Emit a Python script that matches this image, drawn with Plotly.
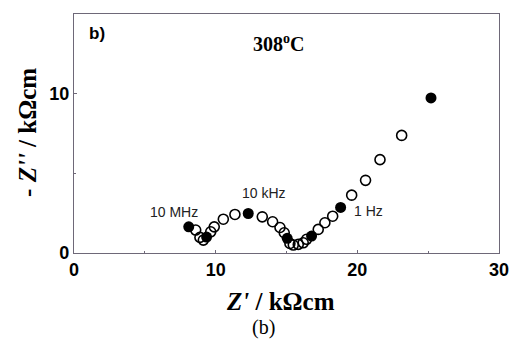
import plotly.graph_objects as go

# Open circles (Z', -Z'')
open_x = [8.59, 8.89, 9.13, 9.65, 9.9, 10.54, 11.36, 13.29, 14.02, 14.54, 14.84,
          15.24, 15.48, 15.83, 16.18, 16.42, 17.24, 17.71, 18.26, 19.6, 20.58, 21.6, 23.13]
open_y = [1.44, 0.98, 0.81, 1.33, 1.64, 2.12, 2.42, 2.27, 1.96, 1.6, 1.27,
          0.6, 0.5, 0.54, 0.64, 0.86, 1.48, 1.9, 2.31, 3.63, 4.56, 5.86, 7.38]
# Filled circles (decade frequencies)
filled_x = [8.1, 9.36, 12.3, 15.05, 16.77, 18.82, 25.2]
filled_y = [1.64, 1.0, 2.48, 0.92, 1.06, 2.86, 9.73]

freq_labels = ["10 MHz", "10 kHz", "1 Hz"]
freq_x = [7.06, 13.44, 20.78]
freq_y = [2.56, 3.75, 2.63]

x_ticks = [0, 10, 20, 30]
y_ticks = [0, 10]

fig = go.Figure()
fig.add_trace(go.Scatter(x=open_x, y=open_y, mode="markers",
                         marker=dict(symbol="circle-open", size=10, color="black",
                                     line=dict(width=1.6, color="black"))))
fig.add_trace(go.Scatter(x=filled_x, y=filled_y, mode="markers",
                         marker=dict(symbol="circle", size=11, color="black")))

for t, x, y in zip(freq_labels, freq_x, freq_y):
    fig.add_annotation(x=x, y=y, text=t, showarrow=False, xanchor="center", yanchor="middle",
                       font=dict(family="Liberation Sans, Arial", size=14, color="#222"))

fig.add_annotation(xref="paper", yref="paper", x=0.031, y=0.92, text="<b>b)</b>", showarrow=False,
                   xanchor="left", yanchor="middle",
                   font=dict(family="Liberation Sans, Arial", size=17, color="black"))
fig.add_annotation(xref="paper", yref="paper", x=0.48, y=0.879, text="<b>308<sup>o</sup>C</b>",
                   showarrow=False, xanchor="center", yanchor="middle",
                   font=dict(family="Liberation Serif, Times New Roman", size=20, color="black"))
fig.add_annotation(xref="paper", yref="paper", x=0.487, y=-0.205, text="<b><i>Z'</i> / kΩcm</b>",
                   showarrow=False, xanchor="center", yanchor="middle",
                   font=dict(family="Liberation Serif, Times New Roman", size=25, color="black"))
fig.add_annotation(xref="paper", yref="paper", x=-0.111, y=0.506, text="<b>- <i>Z''</i> / kΩcm</b>",
                   showarrow=False, xanchor="center", yanchor="middle", textangle=-90,
                   font=dict(family="Liberation Serif, Times New Roman", size=25, color="black"))
fig.add_annotation(xref="paper", yref="paper", x=0.445, y=-0.312, text="(b)", showarrow=False,
                   xanchor="center", yanchor="middle",
                   font=dict(family="Liberation Serif, Times New Roman", size=20, color="black"))

axis_color = "#6e6878"
axis_common = dict(showline=True, linecolor=axis_color, linewidth=1.2, mirror=True, automargin=False,
                   ticks="inside", ticklen=3, tickcolor=axis_color, showgrid=False, zeroline=False,
                   tickfont=dict(family="Liberation Sans, Arial", size=18, color="black"))

fig.update_xaxes(range=[0, 30], tickvals=x_ticks, ticktext=[f"<b>{v}</b>" for v in x_ticks],
                 minor=dict(tickvals=[5, 15, 25], ticks="inside", ticklen=2, tickcolor=axis_color),
                 **axis_common)
fig.update_yaxes(range=[0, 15], tickvals=y_ticks, ticktext=[f"<b>{v}</b>" for v in y_ticks],
                 minor=dict(tickvals=[5], ticks="inside", ticklen=2, tickcolor=axis_color),
                 **axis_common)

fig.update_layout(width=511, height=339, margin=dict(l=74, r=12, t=14, b=86),
                  plot_bgcolor="white", paper_bgcolor="white", showlegend=False)

# remove the default 8px page margin so the figure fills the 511x339 window exactly
fig.write_html("out.html", config={"displayModeBar": False},
               post_script="document.body.style.margin='0';document.documentElement.style.overflow='hidden';")
